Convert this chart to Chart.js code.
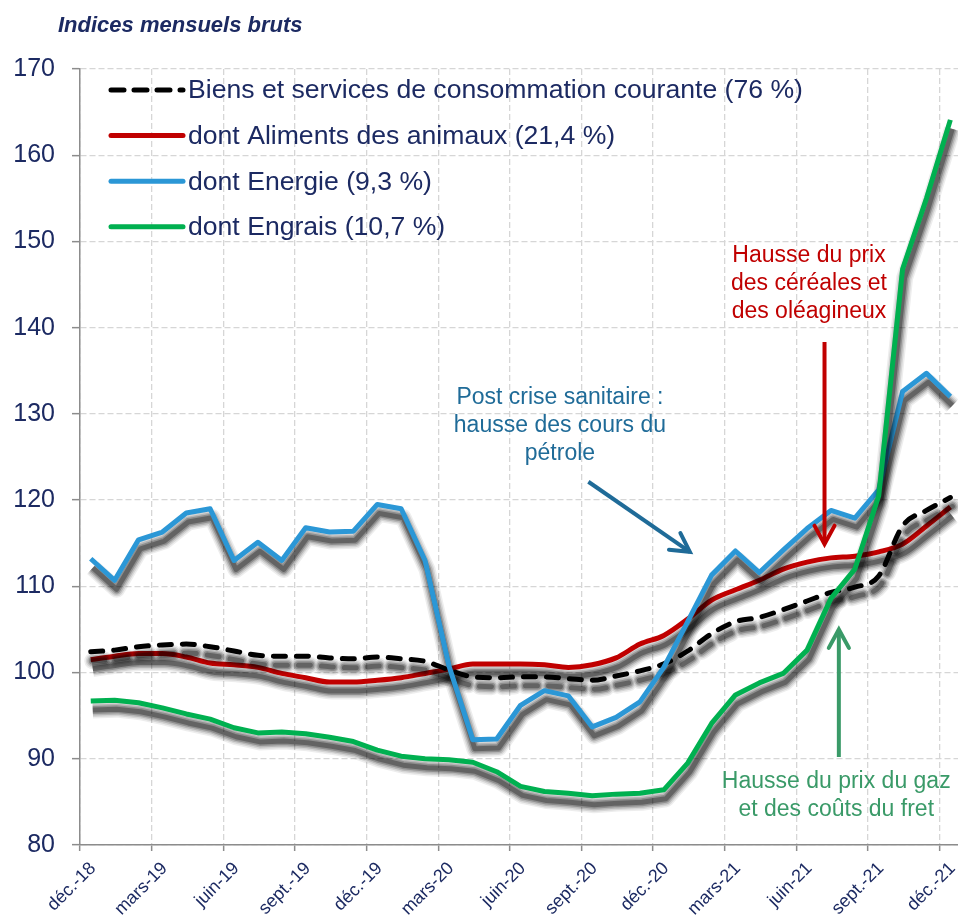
<!DOCTYPE html>
<html lang="fr">
<head>
<meta charset="utf-8">
<title>Indices mensuels bruts</title>
<script src="https://cdn.jsdelivr.net/npm/chart.js@4.4.1/dist/chart.umd.min.js"></script>
<style>
  html, body { margin: 0; padding: 0; background: #fff; }
  #cadre { width: 958px; height: 920px; position: relative; }
</style>
</head>
<body>
<div id="cadre"><canvas id="graphique"></canvas></div>
<script>
// mois de dec. 2018 a dec. 2021 (une etiquette sur trois est affichee)
const mois = [
  'déc.-18', 'janv.-19', 'févr.-19', 'mars-19', 'avr.-19', 'mai-19', 'juin-19', 'juil.-19', 'août-19',
  'sept.-19', 'oct.-19', 'nov.-19', 'déc.-19', 'janv.-20', 'févr.-20', 'mars-20', 'avr.-20', 'mai-20',
  'juin-20', 'juil.-20', 'août-20', 'sept.-20', 'oct.-20', 'nov.-20', 'déc.-20', 'janv.-21', 'févr.-21',
  'mars-21', 'avr.-21', 'mai-21', 'juin-21', 'juil.-21', 'août-21', 'sept.-21', 'oct.-21', 'nov.-21', 'déc.-21'
];

const biensServices = [102.4, 102.6, 103.0, 103.2, 103.3, 103.0, 102.5, 102.0, 101.9, 101.9, 101.7, 101.6, 101.8,
  101.6, 101.3, 100.3, 99.5, 99.4, 99.5, 99.5, 99.3, 99.1, 99.6, 100.2, 101.0, 102.5, 104.5, 105.9, 106.4,
  107.3, 108.3, 109.3, 109.9, 111.2, 117.0, 118.8, 120.3];

const aliments = [101.5, 101.9, 102.2, 102.2, 101.8, 101.1, 100.9, 100.6, 99.9, 99.4, 98.9, 98.9, 99.1,
  99.4, 99.9, 100.4, 101.0, 101.0, 101.0, 100.9, 100.6, 100.9, 101.7, 103.3, 104.3, 106.2, 108.4, 109.6,
  110.7, 112.0, 112.8, 113.3, 113.5, 114.0, 114.9, 117.0, 119.2];

const energie = [113.2, 110.7, 115.4, 116.3, 118.5, 119.0, 113.0, 115.1, 113.0, 116.8, 116.3, 116.4, 119.5,
  119.0, 113.0, 100.8, 92.2, 92.3, 96.2, 97.9, 97.3, 93.7, 94.8, 96.6, 100.6, 105.9, 111.3, 114.1, 111.6,
  114.2, 116.7, 118.8, 117.9, 121.2, 132.6, 134.7, 132.0];

const engrais = [96.7, 96.8, 96.5, 95.9, 95.2, 94.6, 93.6, 93.0, 93.1, 92.9, 92.5, 92.0, 91.0,
  90.3, 90.0, 89.9, 89.6, 88.5, 86.8, 86.2, 86.0, 85.7, 85.9, 86.0, 86.4, 89.5, 94.1, 97.4, 98.8,
  99.9, 102.6, 108.6, 112.0, 120.5, 146.8, 155.0, 164.1];

const noms = [
  'Biens et services de consommation courante (76 %)',
  'dont Aliments des animaux (21,4 %)',
  'dont Energie (9,3 %)',
  'dont Engrais (10,7 %)'
];

const graduationsX = [0, 3, 6, 9, 12, 15, 18, 21, 24, 27, 30, 33, 36];
const graduationsY = [80, 90, 100, 110, 120, 130, 140, 150, 160, 170];

// commentaires du graphique (position en unites des axes)
const notes = [
  { lignes: ['Post crise sanitaire :', 'hausse des cours du', 'pétrole'], couleur: '#1f6b98',
    x: 20.1, y: 131.85, fleche: [21.29, 122.13, 25.54, 114.0] },
  { lignes: ['Hausse du prix', 'des céréales et', 'des oléagineux'], couleur: '#c00000',
    x: 30.53, y: 148.38, fleche: [31.18, 138.35, 31.18, 114.9] },
  { lignes: ['Hausse du prix du gaz', 'et des coûts du fret'], couleur: '#3a9a68',
    x: 31.67, y: 87.29, fleche: [31.78, 90.2, 31.78, 105.0] }
];

const police = "'Liberation Sans', Arial, sans-serif";
const bleuNuit = '#1c2a62';

// le point du mois i est place un peu apres la graduation du mois
function serie(valeurs) {
  return valeurs.map((v, i) => ({ x: i + 0.45, y: v }));
}

// ombre grise sous chaque courbe : plusieurs traits decales et transparents
const ombre = {
  id: 'ombre',
  beforeDatasetDraw(chart, args) {
    const el = args.meta.dataset;
    if (!el) return;
    const ctx = chart.ctx;
    const o = el.options;
    const couleur = o.borderColor, largeur = o.borderWidth;
    ctx.save();
    ctx.translate(2, 9);
    [[17, 0.07], [14, 0.1], [11, 0.15], [8, 0.22], [5, 0.3]].forEach(([w, a]) => {
      o.borderColor = 'rgba(0,0,0,' + a + ')';
      o.borderWidth = w;
      el.draw(ctx, chart.chartArea);
    });
    o.borderColor = couleur;
    o.borderWidth = largeur;
    ctx.restore();
  }
};

const commentaires = {
  id: 'commentaires',
  afterDatasetsDraw(chart) {
    const ctx = chart.ctx;
    const sx = chart.scales.x, sy = chart.scales.y;
    notes.forEach(n => {
      ctx.save();
      ctx.fillStyle = n.couleur;
      ctx.font = '23px ' + police;
      ctx.textAlign = 'center';
      ctx.textBaseline = 'middle';
      const cx = sx.getPixelForValue(n.x);
      const cy = sy.getPixelForValue(n.y);
      n.lignes.forEach((t, k) => ctx.fillText(t, cx, cy + k * 28));

      const x1 = sx.getPixelForValue(n.fleche[0]), y1 = sy.getPixelForValue(n.fleche[1]);
      const x2 = sx.getPixelForValue(n.fleche[2]), y2 = sy.getPixelForValue(n.fleche[3]);
      const ang = Math.atan2(y2 - y1, x2 - x1);
      ctx.strokeStyle = n.couleur;
      ctx.lineWidth = 4;
      ctx.lineCap = 'butt';
      ctx.beginPath();
      ctx.moveTo(x1, y1);
      ctx.lineTo(x2, y2);
      ctx.stroke();
      ctx.lineCap = 'round';
      ctx.beginPath();
      ctx.moveTo(x2 - 21 * Math.cos(ang - 0.5), y2 - 21 * Math.sin(ang - 0.5));
      ctx.lineTo(x2, y2);
      ctx.lineTo(x2 - 21 * Math.cos(ang + 0.5), y2 - 21 * Math.sin(ang + 0.5));
      ctx.stroke();
      ctx.restore();
    });
  }
};

const legende = {
  id: 'legende',
  afterDraw(chart) {
    const ctx = chart.ctx;
    const a = chart.chartArea;
    chart.data.datasets.forEach((ds, k) => {
      const y = a.top + 21 + k * 45.6;
      ctx.save();
      ctx.strokeStyle = ds.borderColor;
      ctx.lineWidth = 5;
      ctx.lineCap = 'round';
      ctx.setLineDash(ds.borderDash ? [13, 10] : []);
      ctx.beginPath();
      ctx.moveTo(a.left + 31, y);
      ctx.lineTo(a.left + 103, y);
      ctx.stroke();
      ctx.fillStyle = bleuNuit;
      ctx.font = '26.6px ' + police;
      ctx.textBaseline = 'middle';
      ctx.fillText(ds.label, a.left + 108, y + 1);
      ctx.restore();
    });
    // titre
    ctx.save();
    ctx.fillStyle = bleuNuit;
    ctx.font = 'italic bold 22px ' + police;
    ctx.textBaseline = 'middle';
    ctx.fillText('Indices mensuels bruts', 58, 26);
    ctx.restore();
  }
};

new Chart(document.getElementById('graphique'), {
  type: 'line',
  data: {
    datasets: [
      { label: noms[0], data: serie(biensServices), borderColor: '#000000', borderDash: [12, 11],
        borderCapStyle: 'round', cubicInterpolationMode: 'monotone', order: 2 },
      { label: noms[1], data: serie(aliments), borderColor: '#c00000',
        cubicInterpolationMode: 'monotone', order: 3 },
      { label: noms[2], data: serie(energie), borderColor: '#2b97d6', tension: 0, order: 1 },
      { label: noms[3], data: serie(engrais), borderColor: '#00b050', tension: 0, order: 0 }
    ]
  },
  options: {
    responsive: true,
    maintainAspectRatio: false,
    animation: false,
    devicePixelRatio: 1,
    layout: { padding: { top: 69, right: 0, bottom: 0, left: 0 } },
    elements: {
      line: { borderWidth: 5, borderJoinStyle: 'round', fill: false },
      point: { radius: 0, hoverRadius: 0 }
    },
    plugins: {
      legend: { display: false },
      title: { display: false },
      tooltip: { enabled: false }
    },
    scales: {
      x: {
        type: 'linear',
        min: 0,
        max: 36.77,
        afterBuildTicks: s => { s.ticks = graduationsX.map(v => ({ value: v })); },
        afterFit: s => { s.height = 75; s.paddingLeft = 0; s.paddingRight = 0; },
        ticks: {
          autoSkip: false,
          maxRotation: 45,
          minRotation: 45,
          padding: 7,
          labelOffset: 13,
          color: bleuNuit,
          font: { family: police, size: 18 },
          callback: v => mois[v] || ''
        },
        grid: { color: '#d6d6d6', lineWidth: 1.3, tickColor: '#8c8c8c', tickLength: 6, tickWidth: 1.5, tickBorderDash: [] },
        border: { color: '#8c8c8c', width: 1.5, dash: [6, 3] }
      },
      y: {
        min: 80,
        max: 170,
        afterBuildTicks: s => { s.ticks = graduationsY.map(v => ({ value: v })); },
        afterFit: s => { s.width = 80; },
        ticks: {
          padding: 17,
          color: bleuNuit,
          font: { family: police, size: 25 }
        },
        grid: { color: '#d6d6d6', lineWidth: 1.3, tickColor: '#8c8c8c', tickLength: 8, tickWidth: 1.5, tickBorderDash: [] },
        border: { color: '#8c8c8c', width: 1.5, dash: [6, 3] }
      }
    }
  },
  plugins: [ombre, commentaires, legende]
});
</script>
</body>
</html>
